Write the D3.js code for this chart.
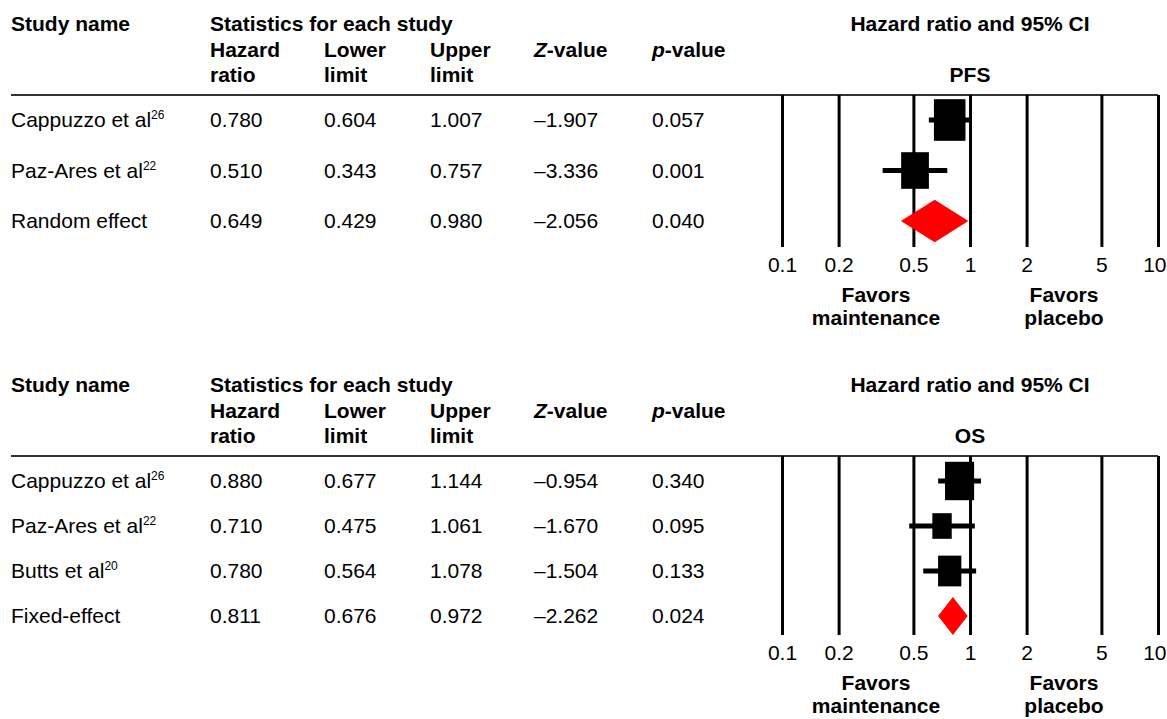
<!DOCTYPE html>
<html>
<head>
<meta charset="utf-8">
<script src="https://cdn.jsdelivr.net/npm/d3@7"></script>
<style>
  body { margin: 0; background: #fff; }
  svg { display: block; font-family: "Liberation Sans", Arial, sans-serif; }
</style>
</head>
<body>
<div id="chart"></div>
<script>
// Forest plots: maintenance vs placebo, PFS and OS hazard ratios

// PFS panel
const pfsStudies = ['Cappuzzo et al', 'Paz-Ares et al', 'Random effect'];
const pfsRefs = ['26', '22', ''];
const pfsHR = [0.780, 0.510, 0.649];
const pfsLower = [0.604, 0.343, 0.429];
const pfsUpper = [1.007, 0.757, 0.980];
const pfsZ = [-1.907, -3.336, -2.056];
const pfsP = [0.057, 0.001, 0.040];
const pfsWeight = [56.4, 43.6, null]; // null = pooled estimate (diamond)

// OS panel
const osStudies = ['Cappuzzo et al', 'Paz-Ares et al', 'Butts et al', 'Fixed-effect'];
const osRefs = ['26', '22', '20', ''];
const osHR = [0.880, 0.710, 0.780, 0.811];
const osLower = [0.677, 0.475, 0.564, 0.676];
const osUpper = [1.144, 1.061, 1.078, 0.972];
const osZ = [-0.954, -1.670, -1.504, -2.262];
const osP = [0.340, 0.095, 0.133, 0.024];
const osWeight = [48.0, 21.3, 30.7, null];

const tickValues = [0.1, 0.2, 0.5, 1, 2, 5, 10];

const width = 1167;
const height = 719;
const fontSize = 21;

const svg = d3.select('#chart')
  .append('svg')
  .attr('width', width)
  .attr('height', height);

const x = d3.scaleLog().domain([0.1, 10]).range([782, 1158]);
const boxSize = d3.scaleSqrt().domain([0, 100]).range([0, 42]);
const fmt = d3.format('.3f');
const fmtSigned = v => (v < 0 ? '\u2013' : '') + fmt(Math.abs(v));

// column x positions of the table
const cols = { name: 11, hr: 210, lower: 324, upper: 430, z: 534, p: 652 };

function drawPanel(top, label, spacing, plotBottom, rows) {
  const g = svg.append('g');
  const lineY = top + 95;

  const text = (xx, yy, str, bold, anchor) => g.append('text')
    .attr('x', xx).attr('y', yy)
    .attr('font-size', fontSize)
    .attr('font-weight', bold ? 'bold' : 'normal')
    .attr('text-anchor', anchor || 'start')
    .attr('fill', '#000')
    .text(str);

  // header
  text(cols.name, top + 31, 'Study name', true);
  text(cols.hr, top + 31, 'Statistics for each study', true);
  text(cols.hr, top + 57, 'Hazard', true);
  text(cols.hr, top + 82, 'ratio', true);
  text(cols.lower, top + 57, 'Lower', true);
  text(cols.lower, top + 82, 'limit', true);
  text(cols.upper, top + 57, 'Upper', true);
  text(cols.upper, top + 82, 'limit', true);
  const zt = text(cols.z, top + 57, '', true);
  zt.append('tspan').attr('font-style', 'italic').text('Z');
  zt.append('tspan').text('-value');
  const pt = text(cols.p, top + 57, '', true);
  pt.append('tspan').attr('font-style', 'italic').text('p');
  pt.append('tspan').text('-value');

  text(970, top + 31, 'Hazard ratio and 95% CI', true, 'middle');
  text(970, top + 82, label, true, 'middle');

  // rule under the header
  g.append('line')
    .attr('x1', 11).attr('x2', 1158)
    .attr('y1', lineY).attr('y2', lineY)
    .attr('stroke', '#333').attr('stroke-width', 2);

  // gridlines + tick labels through an axis
  const axis = d3.axisBottom(x)
    .tickValues(tickValues)
    .tickFormat(d3.format('~g'))
    .tickSize(-(plotBottom - lineY))
    .tickPadding(10);

  const ax = g.append('g')
    .attr('transform', `translate(0,${plotBottom})`)
    .call(axis);
  ax.select('.domain').remove();
  ax.selectAll('.tick line').attr('stroke', '#000').attr('stroke-width', 3);
  ax.selectAll('.tick text')
    .attr('font-size', fontSize)
    .attr('font-family', '"Liberation Sans", Arial, sans-serif')
    .attr('fill', '#000');
  // keep the last label inside the page
  ax.selectAll('.tick text').filter(d => d === 10)
    .attr('text-anchor', 'end')
    .attr('x', 8);

  // favors labels
  const midL = (x(0.1) + x(1)) / 2;
  const midR = (x(1) + x(10)) / 2;
  text(midL, plotBottom + 55, 'Favors', true, 'middle');
  text(midL, plotBottom + 78, 'maintenance', true, 'middle');
  text(midR, plotBottom + 55, 'Favors', true, 'middle');
  text(midR, plotBottom + 78, 'placebo', true, 'middle');

  // rows
  const n = rows.names.length;
  const y = d3.scalePoint()
    .domain(d3.range(n))
    .range([lineY + 25, lineY + 25 + spacing * (n - 1)]);

  d3.range(n).forEach(i => {
    const cy = y(i);
    const nameText = text(cols.name, cy, '', false).attr('dy', '0.35em');
    nameText.append('tspan').text(rows.names[i]);
    if (rows.refs[i]) {
      nameText.append('tspan')
        .attr('font-size', 12)
        .attr('dy', -8)
        .text(rows.refs[i]);
    }
    text(cols.hr, cy, fmt(rows.hr[i])).attr('dy', '0.35em');
    text(cols.lower, cy, fmt(rows.lower[i])).attr('dy', '0.35em');
    text(cols.upper, cy, fmt(rows.upper[i])).attr('dy', '0.35em');
    text(cols.z, cy, fmtSigned(rows.z[i])).attr('dy', '0.35em');
    text(cols.p, cy, fmt(rows.p[i])).attr('dy', '0.35em');

    if (rows.weight[i] == null) {
      const h = spacing * 0.42;
      const pts = [
        [x(rows.lower[i]), cy],
        [x(rows.hr[i]), cy - h],
        [x(rows.upper[i]), cy],
        [x(rows.hr[i]), cy + h]
      ];
      g.append('polygon')
        .attr('points', pts.map(p => p.join(',')).join(' '))
        .attr('fill', '#ff0000');
    } else {
      g.append('line')
        .attr('x1', x(rows.lower[i])).attr('x2', x(rows.upper[i]))
        .attr('y1', cy).attr('y2', cy)
        .attr('stroke', '#000').attr('stroke-width', 5);
      const w = boxSize(rows.weight[i]);
      const h = w * 1.32;
      g.append('rect')
        .attr('x', x(rows.hr[i]) - w / 2)
        .attr('y', cy - h / 2)
        .attr('width', w)
        .attr('height', h)
        .attr('fill', '#000');
    }
  });
}

drawPanel(0, 'PFS', 50.5, 247, {
  names: pfsStudies, refs: pfsRefs, hr: pfsHR, lower: pfsLower,
  upper: pfsUpper, z: pfsZ, p: pfsP, weight: pfsWeight
});

drawPanel(361, 'OS', 45, 635, {
  names: osStudies, refs: osRefs, hr: osHR, lower: osLower,
  upper: osUpper, z: osZ, p: osP, weight: osWeight
});
</script>
</body>
</html>
